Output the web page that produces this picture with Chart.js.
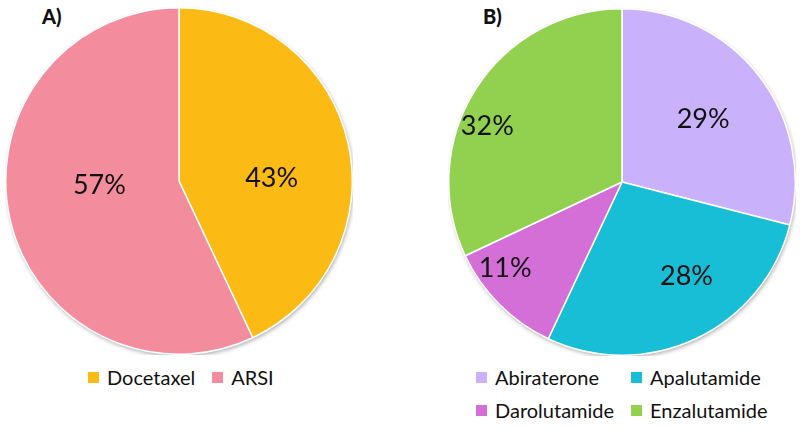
<!DOCTYPE html>
<html lang="en">
<head>
    <meta charset="UTF-8">
    <title>Treatment pies</title>
    <script src="https://cdn.jsdelivr.net/npm/chart.js"></script>
    <style>
        body { margin: 0; background: #fff; font-family: Lato, "Open Sans", sans-serif; }
        .stage { position: relative; width: 800px; height: 428px; overflow: hidden; }
        .box { position: absolute; }
        .tag { position: absolute; font-weight: 900; font-size: 20px; color: #111; }
        .legend { position: absolute; display: grid; column-gap: 17px; row-gap: 9px; font-size: 20px; color: #111; }
        .legend div { display: flex; align-items: center; white-space: nowrap; }
        .legend span.sw { display: inline-block; width: 11px; height: 11px; margin-right: 8px; }
    </style>
</head>
<body>
<div class="stage">
    <div class="tag" style="left:42px; top:4px;">A)</div>
    <div class="tag" style="left:483px; top:4px;">B)</div>
    <div class="box" style="left:5px; top:7px; width:348px; height:348px;"><canvas id="pieA"></canvas></div>
    <div class="box" style="left:448px; top:8px; width:348px; height:348px;"><canvas id="pieB"></canvas></div>
    <div class="legend" id="legendA" style="left:88px; top:365px; grid-template-columns: auto auto;"></div>
    <div class="legend" id="legendB" style="left:476px; top:365px; grid-template-columns: auto auto;"></div>
</div>

<script>
// Chart A: first-line treatment
const labelsA = ["Docetaxel", "ARSI"];
const valuesA = [43, 57];
const colorsA = ["#FBBA14", "#F38D9D"];

// Chart B: ARSI breakdown
const labelsB = ["Abiraterone", "Apalutamide", "Darolutamide", "Enzalutamide"];
const valuesB = [29, 28, 11, 32];
const colorsB = ["#C9B2FB", "#17BED6", "#D46FD8", "#92D050"];

// white disc with a soft shadow behind the slices, like the office-style pies
const shadowDisc = {
    id: "shadowDisc",
    beforeDatasetsDraw(chart) {
        const arc = chart.getDatasetMeta(0).data[0];
        if (!arc) return;
        const ctx = chart.ctx;
        ctx.save();
        ctx.shadowColor = "rgba(0,0,0,0.35)";
        ctx.shadowBlur = 4;
        ctx.shadowOffsetX = 1;
        ctx.shadowOffsetY = 2;
        ctx.fillStyle = "#fff";
        ctx.beginPath();
        ctx.arc(arc.x, arc.y, arc.outerRadius, 0, Math.PI * 2);
        ctx.fill();
        ctx.restore();
    }
};

// percentage text inside each slice (best-fit style placement: radius factor + small angle nudge in degrees)
const pctLabels = {
    id: "pctLabels",
    afterDatasetsDraw(chart, args, opts) {
        const ctx = chart.ctx;
        const meta = chart.getDatasetMeta(0);
        const vals = chart.data.datasets[0].data;
        ctx.save();
        ctx.font = "27px Lato, 'Open Sans', sans-serif";
        ctx.fillStyle = "#111";
        ctx.textAlign = "center";
        ctx.textBaseline = "middle";
        meta.data.forEach((arc, i) => {
            const mid = (arc.startAngle + arc.endAngle) / 2 + (opts.nudge[i] || 0) * Math.PI / 180;
            const r = arc.outerRadius * (opts.radius[i] || 0.6);
            ctx.fillText(vals[i] + "%", arc.x + Math.cos(mid) * r, arc.y + Math.sin(mid) * r);
        });
        ctx.restore();
    }
};

function makePie(id, labels, values, colors, radius, nudge) {
    return new Chart(document.getElementById(id), {
        type: "pie",
        data: {
            labels: labels,
            datasets: [{
                data: values,
                backgroundColor: colors,
                borderColor: "#fff",
                borderWidth: 1.5
            }]
        },
        options: {
            responsive: true,
            maintainAspectRatio: false,
            animation: false,
            layout: { padding: 0 },
            plugins: {
                legend: { display: false },
                tooltip: { enabled: false },
                pctLabels: { radius: radius, nudge: nudge }
            }
        },
        plugins: [shadowDisc, pctLabels]
    });
}

function makeLegend(id, labels, colors) {
    const el = document.getElementById(id);
    labels.forEach((name, i) => {
        const item = document.createElement("div");
        item.innerHTML = `<span class="sw" style="background:${colors[i]}"></span>${name}`;
        el.appendChild(item);
    });
}

makePie("pieA", labelsA, valuesA, colorsA, [0.535, 0.46], [10.7, 9.7]);
makePie("pieB", labelsB, valuesB, colorsB, [0.593, 0.657, 0.84, 0.84], [0, -9.3, 8.4, -10.1]);
makeLegend("legendA", labelsA, colorsA);
makeLegend("legendB", labelsB, colorsB);
</script>
</body>
</html>
